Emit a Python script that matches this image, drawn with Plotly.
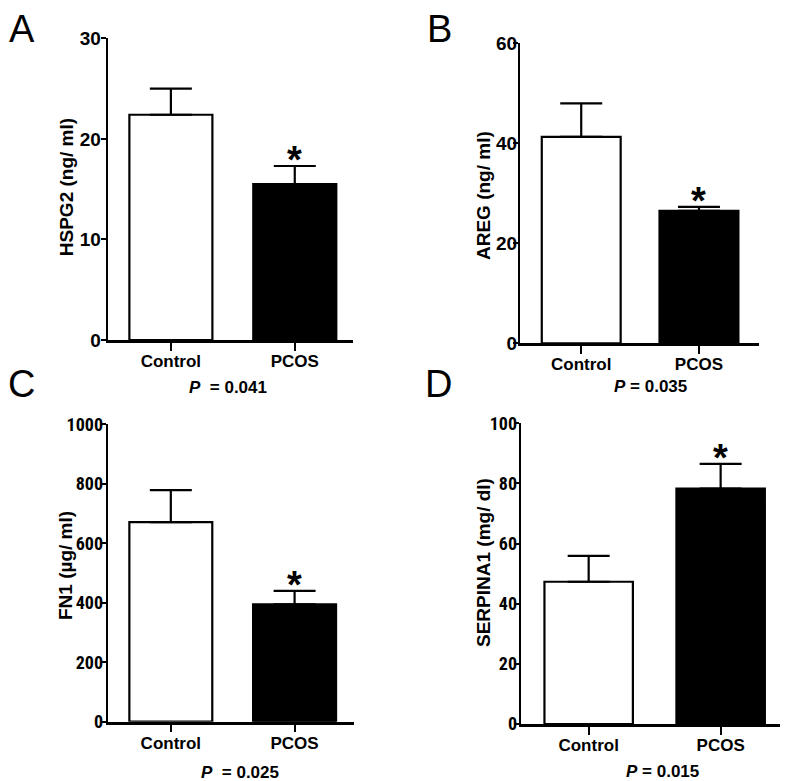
import plotly.graph_objects as go

# ---------------- data ----------------
categories = ["Control", "PCOS"]

hspg2_mean = [22.4, 15.5]
hspg2_sem = [2.6, 1.8]

areg_mean = [41.3, 26.5]
areg_sem = [6.7, 0.8]

fn1_mean = [671, 395]
fn1_sem = [108, 45]

serpina1_mean = [47.3, 78.3]
serpina1_sem = [8.6, 8.2]

panel_letters = ["A", "B", "C", "D"]
y_titles = ["HSPG2 (ng/ ml)", "AREG (ng/ ml)", "FN1 (µg/ ml)", "SERPINA1 (mg/ dl)"]
p_texts = ["<i>P</i>  = 0.041", "<i>P</i> = 0.035", "<i>P</i>  = 0.025", "<i>P</i> = 0.015"]
y_ranges = [[0, 30], [0, 60], [0, 1000], [0, 100]]
y_dticks = [10, 20, 200, 20]
sig_index = [1, 1, 1, 1]

means = [hspg2_mean, areg_mean, fn1_mean, serpina1_mean]
sems = [hspg2_sem, areg_sem, fn1_sem, serpina1_sem]

# ---------------- layout geometry (window pixels) ----------------
OFF = 8                      # page body margin
WIN_W, WIN_H = 788, 781
W, H = WIN_W - OFF, WIN_H - OFF
geom = [
    dict(x0=107.7, x1=353, y0=340.0, y1=38.3, xr=[-0.51, 1.47]),
    dict(x0=520.0, x1=759, y0=343.3, y1=43.3, xr=[-0.52, 1.51]),
    dict(x0=107.7, x1=354, y0=721.7, y1=424.3, xr=[-0.51, 1.48]),
    dict(x0=520.7, x1=785.7, y0=724.0, y1=423.3, xr=[-0.515, 1.493]),
]
ytick_standoff = [-4, -8, -6, -7]
letter_pos = [(22, 28.5), (439, 28.5), (21, 384), (438.5, 384)]
title_pos = [(66.7, 187.5), (483, 195), (65, 566), (483, 562)]
p_pos = [(227.5, 387), (650.8, 386.5), (240, 772), (662.8, 771)]


def px(x):
    return (x - OFF) / W


def py(y):
    return 1 - (y - OFF) / H


fig = go.Figure()
annotations = []
bold_font = "Liberation Sans, Arial, Helvetica, sans-serif"
narrow_font = "Roboto Condensed, DejaVu Sans Condensed, Liberation Sans Narrow, Liberation Sans, sans-serif"

for i in range(4):
    g = geom[i]
    sx = "" if i == 0 else str(i + 1)
    xa, ya = "x" + sx, "y" + sx
    fig.add_trace(go.Bar(
        x=categories,
        y=means[i],
        xaxis=xa,
        yaxis=ya,
        width=0.67,
        marker=dict(color=["white", "black"], line=dict(color="black", width=2.2)),
        error_y=dict(type="data", symmetric=False, array=sems[i], arrayminus=[0, 0],
                     color="black", thickness=2.2, width=21),
        showlegend=False,
    ))
    fig.layout["xaxis" + sx] = dict(
        domain=[px(g["x0"]), min(px(g["x1"]), 1)],
        anchor=ya,
        range=g["xr"],
        type="category",
        automargin=False,
        showline=True, linecolor="black", linewidth=2.5,
        ticks="outside", ticklen=8, tickwidth=2, tickcolor="black",
        ticklabelstandoff=-4,
        tickfont=dict(family=bold_font, size=17, color="black", weight="bold"),
        showgrid=False, zeroline=False, fixedrange=True,
    )
    fig.layout["yaxis" + sx] = dict(
        domain=[py(g["y0"]), py(g["y1"])],
        anchor=xa,
        range=y_ranges[i],
        dtick=y_dticks[i],
        tick0=0,
        automargin=False,
        showline=True, linecolor="black", linewidth=2.2,
        ticks="outside", ticklen=5, tickwidth=2, tickcolor="black",
        ticklabelstandoff=ytick_standoff[i],
        tickfont=dict(family=bold_font if i < 2 else narrow_font,
                      size=19 if i < 2 else 18, color="black", weight="bold"),
        showgrid=False, zeroline=False, fixedrange=True,
    )
    tx, ty = title_pos[i]
    annotations.append(dict(
        text=y_titles[i], x=px(tx), y=py(ty), xref="paper", yref="paper",
        xanchor="center", yanchor="middle", textangle=-90, showarrow=False,
        font=dict(family=bold_font, size=19, color="black", weight="bold"),
    ))
    lx, ly = letter_pos[i]
    annotations.append(dict(
        text=panel_letters[i], x=px(lx), y=py(ly), xref="paper", yref="paper",
        xanchor="center", yanchor="middle", showarrow=False,
        font=dict(family=bold_font, size=38, color="black"),
    ))
    pxx, pyy = p_pos[i]
    annotations.append(dict(
        text=p_texts[i], x=px(pxx), y=py(pyy), xref="paper", yref="paper",
        xanchor="center", yanchor="middle", showarrow=False,
        font=dict(family=bold_font, size=17, color="black", weight="bold"),
    ))
    k = sig_index[i]
    annotations.append(dict(
        text="*", x=k, y=means[i][k] + sems[i][k], xref=xa, yref=ya,
        xanchor="center", yanchor="middle", yshift=6, showarrow=False,
        font=dict(family=bold_font, size=38, color="black", weight="bold"),
    ))

fig.update_layout(
    width=W, height=H,
    margin=dict(l=0, r=0, t=0, b=0, pad=0, autoexpand=False),
    paper_bgcolor="white", plot_bgcolor="white",
    annotations=annotations,
)

fig.write_html("out.html")
